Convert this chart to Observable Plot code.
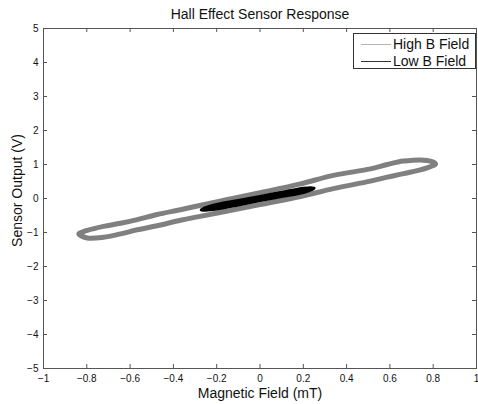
<!DOCTYPE html>
<html>
<head>
<meta charset="utf-8">
<script src="https://cdn.jsdelivr.net/npm/d3@7"></script>
<script src="https://cdn.jsdelivr.net/npm/@observablehq/plot@0.6"></script>
<style>
  html, body { margin: 0; padding: 0; background: white; }
  #wrap { position: relative; width: 478px; height: 404px; font-family: "Liberation Sans", Arial, Helvetica, sans-serif; }
  #legend { position: absolute; left: 353px; top: 33px; width: 123px; height: 36px; box-sizing: border-box;
            border: 1px solid #333; background: white; font-size: 14px; color: #111; }
  .row { position: absolute; left: 0; height: 16px; width: 100%; }
  .row .ln { position: absolute; left: 7px; width: 30px; top: 8px; height: 0; border-top: 1px solid; }
  .row .tx { position: absolute; left: 39px; top: 0; line-height: 16px; white-space: nowrap; }
</style>
</head>
<body>
<div id="wrap"></div>
<script>
// ---- data ----
const title = "Hall Effect Sensor Response";
const xLabel = "Magnetic Field (mT)";
const yLabel = "Sensor Output (V)";
const seriesNames = ["High B Field", "Low B Field"];
const xTicks = [-1, -0.8, -0.6, -0.4, -0.2, 0, 0.2, 0.4, 0.6, 0.8, 1];
const yTicks = [-5, -4, -3, -2, -1, 0, 1, 2, 3, 4, 5];

// High B field loop: upper branch (left -> right), then lower branch (right -> left)
const highX = [-0.837, -0.798, -0.723, -0.644, -0.567, -0.475, -0.367, -0.289, -0.15, 0.0, 0.187, 0.339, 0.510, 0.588, 0.663, 0.772, 0.811,
               0.772, 0.663, 0.588, 0.510, 0.339, 0.187, 0.0, -0.15, -0.289, -0.367, -0.475, -0.567, -0.644, -0.723, -0.798];
const highY = [-1.04, -0.94, -0.82, -0.73, -0.62, -0.47, -0.33, -0.22, -0.03, 0.17, 0.43, 0.68, 0.87, 1.00, 1.10, 1.12, 1.02,
               0.90, 0.73, 0.63, 0.51, 0.29, 0.06, -0.18, -0.37, -0.54, -0.64, -0.80, -0.92, -1.04, -1.14, -1.16];

// Low B field loop
const lowX = [-0.268, -0.2, -0.1, 0.0, 0.1, 0.2, 0.247, 0.2, 0.1, 0.0, -0.1, -0.2];
const lowY = [-0.33, -0.20, -0.08, 0.04, 0.16, 0.28, 0.30, 0.20, 0.08, -0.04, -0.17, -0.29];

const high = highX.map((x, i) => ({x, y: highY[i]}));
const low = lowX.map((x, i) => ({x, y: lowY[i]}));

const W = 478, H = 404, mL = 43, mR = 2, mT = 28, mB = 36;
const fw = W - mL - mR, fh = H - mT - mB, tk = 4;
const axisColor = "#555";
const fmt = d3.format("~g");

const chart = Plot.plot({
  width: W, height: H,
  marginLeft: mL, marginRight: mR, marginTop: mT, marginBottom: mB,
  x: {domain: [-1, 1]},
  y: {domain: [-5, 5]},
  style: {fontFamily: "'Liberation Sans', Arial, Helvetica, sans-serif", fontSize: "10px", background: "white", color: "#111", overflow: "visible"},
  marks: [
    Plot.line(high, {x: "x", y: "y", stroke: "#808080", strokeWidth: 5, curve: "catmull-rom-closed"}),
    Plot.line(low, {x: "x", y: "y", stroke: "#000", strokeWidth: 4.5, curve: "catmull-rom-closed"}),
    Plot.frame({stroke: axisColor, strokeWidth: 1}),
    // inward ticks on all four sides
    Plot.ruleX(xTicks, {x: d => d, insetTop: fh - tk, stroke: axisColor}),
    Plot.ruleX(xTicks, {x: d => d, insetBottom: fh - tk, stroke: axisColor}),
    Plot.ruleY(yTicks, {y: d => d, insetRight: fw - tk, stroke: axisColor}),
    Plot.ruleY(yTicks, {y: d => d, insetLeft: fw - tk, stroke: axisColor}),
    Plot.axisX({ticks: xTicks, tickFormat: fmt, anchor: "bottom", tickSize: 0, tickPadding: 6, label: null, fontSize: 10}),
    Plot.axisY({ticks: yTicks, tickFormat: fmt, anchor: "left", tickSize: 0, tickPadding: 5, label: null, fontSize: 10}),
    Plot.text([title], {frameAnchor: "top", lineAnchor: "middle", dy: -14, fontSize: 14, fill: "#111"}),
    Plot.text([xLabel], {frameAnchor: "bottom", lineAnchor: "middle", dy: 25, fontSize: 14, fill: "#111"}),
    Plot.text([yLabel], {frameAnchor: "left", textAnchor: "middle", lineAnchor: "middle", rotate: -90, dx: -26, dy: -8, fontSize: 14, fill: "#111"})
  ]
});

const wrap = document.getElementById("wrap");
wrap.appendChild(chart);

// legend box
const legend = document.createElement("div");
legend.id = "legend";
const legendColors = ["#b4b4b4", "#333"];
seriesNames.forEach((name, i) => {
  const row = document.createElement("div");
  row.className = "row";
  row.style.top = (2 + i * 17) + "px";
  const ln = document.createElement("div");
  ln.className = "ln";
  ln.style.borderTopColor = legendColors[i];
  const tx = document.createElement("div");
  tx.className = "tx";
  tx.textContent = name;
  row.appendChild(ln);
  row.appendChild(tx);
  legend.appendChild(row);
});
wrap.appendChild(legend);
</script>
</body>
</html>
